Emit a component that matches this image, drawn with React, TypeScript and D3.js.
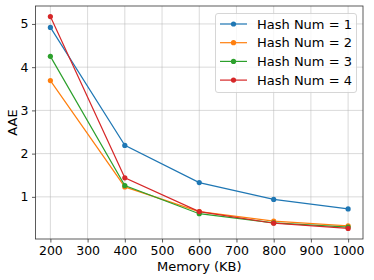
import React, { useRef, useEffect } from 'react';
import * as d3 from 'd3';

const memory = [200, 400, 600, 800, 1000];
const hash1 = [4.92, 2.19, 1.33, 0.94, 0.72];
const hash2 = [3.69, 1.23, 0.66, 0.44, 0.33];
const hash3 = [4.25, 1.26, 0.61, 0.4, 0.3];
const hash4 = [5.17, 1.44, 0.66, 0.39, 0.27];
const seriesNames = ['Hash Num = 1', 'Hash Num = 2', 'Hash Num = 3', 'Hash Num = 4'];
const colors = ['#1f77b4', '#ff7f0e', '#2ca02c', '#d62728'];
const xTicks = [200, 300, 400, 500, 600, 700, 800, 900, 1000];
const yTicks = [1, 2, 3, 4, 5];

export default function App() {
  const ref = useRef<SVGSVGElement>(null);

  useEffect(() => {
    if (!ref.current) return;
    const svg = d3.select(ref.current);
    svg.selectAll('*').remove();

    const W = 374, H = 280;
    const margin = { top: 6, right: 11, bottom: 41, left: 35.5 };
    const font = 'DejaVu Sans, sans-serif';

    const all = [hash1, hash2, hash3, hash4];
    const allVals = all.flat();
    const ymin = d3.min(allVals)!, ymax = d3.max(allVals)!;
    const ypad = (ymax - ymin) * 0.05;

    const x = d3.scaleLinear().domain([160, 1040]).range([margin.left, W - margin.right]);
    const y = d3.scaleLinear().domain([ymin - ypad, ymax + ypad]).range([H - margin.bottom, margin.top]);

    // grid
    const grid = svg.append('g').attr('stroke', '#b0b0b0').attr('stroke-opacity', 0.6).attr('stroke-width', 0.8);
    xTicks.forEach(t => grid.append('line').attr('x1', x(t)).attr('x2', x(t)).attr('y1', margin.top).attr('y2', H - margin.bottom));
    yTicks.forEach(t => grid.append('line').attr('y1', y(t)).attr('y2', y(t)).attr('x1', margin.left).attr('x2', W - margin.right));

    // axes
    const xAxis = svg.append('g')
      .attr('transform', `translate(0,${H - margin.bottom})`)
      .call(d3.axisBottom(x).tickValues(xTicks).tickSize(3.5).tickPadding(3.5).tickFormat(d3.format('d')));
    const yAxis = svg.append('g')
      .attr('transform', `translate(${margin.left},0)`)
      .call(d3.axisLeft(y).tickValues(yTicks).tickSize(3.5).tickPadding(3.5).tickFormat(d3.format('d')));
    [xAxis, yAxis].forEach(a => {
      a.select('.domain').remove();
      a.selectAll('line').attr('stroke', '#333').attr('stroke-width', 0.8);
      a.selectAll('text').attr('font-family', font).attr('font-size', 12.5).attr('fill', '#000');
    });

    svg.append('rect')
      .attr('x', margin.left).attr('y', margin.top)
      .attr('width', W - margin.left - margin.right).attr('height', H - margin.top - margin.bottom)
      .attr('fill', 'none').attr('stroke', '#333').attr('stroke-width', 0.8);

    // lines
    const line = d3.line<number>().x((_, i) => x(memory[i])).y(d => y(d));
    all.forEach((vals, si) => {
      svg.append('path').datum(vals)
        .attr('fill', 'none').attr('stroke', colors[si]).attr('stroke-width', 1.2).attr('d', line);
      svg.selectAll(`.dot${si}`).data(vals).enter().append('circle')
        .attr('cx', (_, i) => x(memory[i])).attr('cy', d => y(d)).attr('r', 2.6).attr('fill', colors[si]);
    });

    // labels
    svg.append('text').attr('x', (margin.left + W - margin.right) / 2).attr('y', 271)
      .attr('text-anchor', 'middle').attr('font-family', font).attr('font-size', 13).text('Memory (KB)');
    svg.append('text').attr('transform', `translate(17,${(margin.top + H - margin.bottom) / 2}) rotate(-90)`)
      .attr('text-anchor', 'middle').attr('font-family', font).attr('font-size', 13).text('AAE');

    // legend
    const lg = svg.append('g');
    lg.append('rect').attr('x', 215.5).attr('y', 13.5).attr('width', 141).attr('height', 79).attr('rx', 2.5)
      .attr('fill', 'white').attr('fill-opacity', 0.8).attr('stroke', '#ccc').attr('stroke-width', 0.8);
    seriesNames.forEach((name, i) => {
      const cy = 24 + i * 18.7;
      lg.append('line').attr('x1', 220).attr('x2', 247).attr('y1', cy).attr('y2', cy)
        .attr('stroke', colors[i]).attr('stroke-width', 1.2);
      lg.append('circle').attr('cx', 233.5).attr('cy', cy).attr('r', 2.6).attr('fill', colors[i]);
      lg.append('text').attr('x', 257).attr('y', cy + 4.7).attr('font-family', font).attr('font-size', 13).text(name);
    });
  }, []);

  return <svg ref={ref} width={374} height={280} style={{ position: 'absolute', left: 0, top: 0 }} />;
}
